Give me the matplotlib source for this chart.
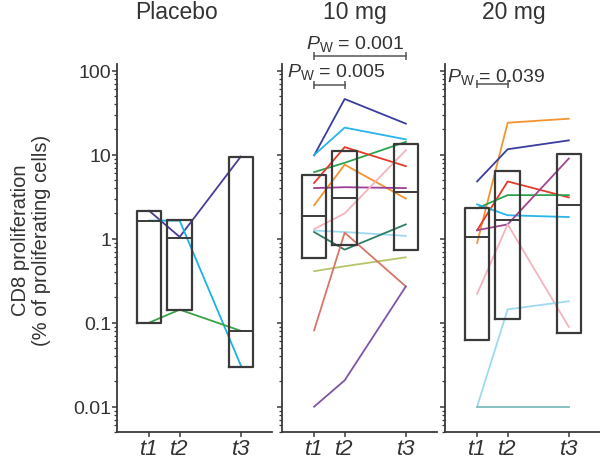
import matplotlib
matplotlib.use("Agg")
import matplotlib.pyplot as plt
import matplotlib.transforms as mtransforms
import numpy as np

plt.rcParams['font.family'] = ['Liberation Sans', 'DejaVu Sans']
plt.rcParams['mathtext.fontset'] = 'custom'
plt.rcParams['mathtext.rm'] = 'Liberation Sans'
plt.rcParams['mathtext.it'] = 'Liberation Sans:italic'

# ---- data ----
time_labels = ["t1", "t2", "t3"]
time_pos = [1, 2, 4]
panel_titles = ["Placebo", "10 mg", "20 mg"]

placebo_lines = [
    [2.15, 1.05, 9.5],
    [1.64, 1.64, 0.031],
    [0.10, 0.143, 0.08],
]
placebo_colors = ["#4a3c96", "#1ab2e8", "#3aa34a"]

mg10_lines = [
    [9.8, 46.0, 23.4],
    [9.9, 21.0, 15.2],
    [6.2, 8.0, 14.2],
    [4.6, 12.3, 7.3],
    [2.5, 7.6, 3.0],
    [4.0, 4.1, 4.0],
    [1.3, 2.0, 11.3],
    [1.25, 1.2, 1.08],
    [1.2, 0.74, 1.48],
    [0.41, 0.47, 0.60],
    [0.081, 1.18, 0.27],
    [0.010, 0.0206, 0.27],
]
mg10_colors = ["#3b3d9e", "#27b5ea", "#2ea34f", "#e83a2a", "#f59331", "#9b3f96",
               "#f5b3bd", "#9fd9f0", "#2f7f64", "#b8c36a", "#d77566", "#7d55a8"]

mg20_lines = [
    [0.89, 24.0, 26.8],
    [4.8, 11.6, 14.8],
    [1.26, 4.8, 3.1],
    [2.3, 3.3, 3.3],
    [2.56, 1.9, 1.81],
    [1.26, 1.48, 9.0],
    [0.22, 1.48, 0.089],
    [0.010, 0.144, 0.18],
    [0.010, 0.010, 0.010],
]
mg20_colors = ["#f59331", "#3b3d9e", "#e83a2a", "#2ea34f", "#27b5ea", "#a0468f",
               "#f5b3bd", "#9fd9f0", "#7fbcbc"]

# box statistics per time point: lower, median, upper
placebo_box = {"low": [0.10, 0.143, 0.030], "med": [1.64, 1.03, 0.080], "high": [2.15, 1.65, 9.5]}
mg10_box = {"low": [0.59, 0.85, 0.73], "med": [1.86, 3.05, 3.6], "high": [5.8, 11.1, 13.3]}
mg20_box = {"low": [0.063, 0.11, 0.075], "med": [1.05, 1.65, 2.5], "high": [2.34, 6.4, 10.3]}

yticks = [0.01, 0.1, 1, 10, 100]
ytick_labels = ["0.01", "0.1", "1", "10", "100"]

# ---- layout ----
W, H = 600, 460
fig = plt.figure(figsize=(6, 4.6), dpi=100)
ax_left_px = [117, 282, 445]
ax_w_px = 155
ax_bottom_px = 433
ax_top_px = 65

panels = [
    (placebo_lines, placebo_colors, placebo_box),
    (mg10_lines, mg10_colors, mg10_box),
    (mg20_lines, mg20_colors, mg20_box),
]
title_x = [1.88, 2.34, 2.21]
axes = []
edge = "#3a3a3a"
txt = "#333333"
for i, (lines, colors, box) in enumerate(panels):
    ax = fig.add_axes([ax_left_px[i] / W, (H - ax_bottom_px) / H,
                       ax_w_px / W, (ax_bottom_px - ax_top_px) / H])
    axes.append(ax)
    ax.set_yscale('log')
    ax.set_ylim(0.005, 120)
    ax.set_xlim(-0.05, 5.02)
    for vals, c in zip(lines, colors):
        ax.plot(time_pos, vals, color=c, lw=1.3, zorder=2)
    bw = 0.8
    for j, x in enumerate(time_pos):
        lo, md, hi = box["low"][j], box["med"][j], box["high"][j]
        ax.plot([x - bw / 2, x + bw / 2, x + bw / 2, x - bw / 2, x - bw / 2],
                [lo, lo, hi, hi, lo], color=edge, lw=1.6, zorder=3)
        ax.plot([x - bw / 2, x + bw / 2], [md, md], color=edge, lw=1.4, zorder=3)
    for s in ['top', 'right']:
        ax.spines[s].set_visible(False)
    for s in ['left', 'bottom']:
        ax.spines[s].set_color(edge)
        ax.spines[s].set_linewidth(1.3)
    ax.set_xticks(time_pos)
    ax.set_xticklabels(time_labels, fontsize=16, style='italic', color=txt)
    ax.set_yticks(yticks)
    ax.tick_params(axis='x', which='major', direction='out', length=3.5, width=1.1,
                   color=edge, pad=1)
    ax.tick_params(axis='y', which='major', direction='out', length=3.5, width=1.1,
                   color=edge, labelsize=14, labelcolor=txt, pad=0.5)
    ax.tick_params(axis='y', which='minor', direction='out', length=2.2, width=0.9, color=edge)
    if i == 0:
        ax.set_yticklabels(ytick_labels)
    else:
        ax.set_yticklabels([])
    ax.text(title_x[i], 1.144, panel_titles[i],
            transform=mtransforms.blended_transform_factory(ax.transData, ax.transAxes),
            ha='center', va='center', fontsize=16.5, color=txt)

fig.text(31 / W, (H - 240) / H, "CD8 proliferation\n(% of proliferating cells)", rotation=90,
         ha='center', va='center', fontsize=14.5, color=txt, linespacing=1.1)

# p-value annotations
def pbar(ax, x1, x2, yfrac, text, tx, tyfrac):
    tr = mtransforms.blended_transform_factory(ax.transData, ax.transAxes)
    ax.plot([x1, x2], [yfrac, yfrac], transform=tr, color='#555555', lw=1.1, clip_on=False,
            marker='|', markersize=6, markeredgewidth=1.1)
    ax.text(tx, tyfrac, text, transform=tr, ha='left', va='center', fontsize=14,
            color=txt, clip_on=False)

pbar(axes[1], 1, 4, 1.022, r"$P_{\mathrm{W}}$ = 0.001", 0.75, 1.056)
pbar(axes[1], 1, 2, 0.943, r"$P_{\mathrm{W}}$ = 0.005", 0.12, 0.98)
pbar(axes[2], 1, 2, 0.946, r"$P_{\mathrm{W}}$ = 0.039", 0.02, 0.967)

fig.savefig("out.png", dpi=100)
